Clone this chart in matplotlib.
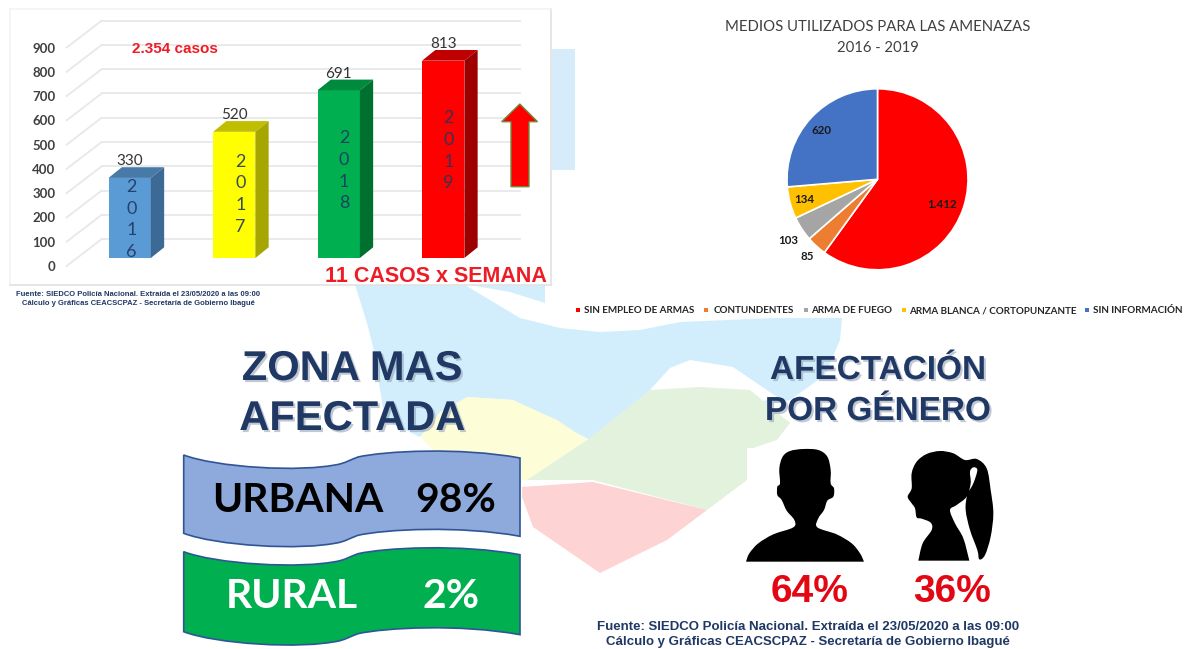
"""Amenazas 2016-2019: infographic with bars, pie, zone banners and gender figures."""

import matplotlib

matplotlib.use("Agg")
import matplotlib.patheffects as pe
import matplotlib.pyplot as plt
from matplotlib.patches import PathPatch, Polygon, Rectangle
from matplotlib.path import Path

W, H = 1186, 649

# Bars
years = ["2016", "2017", "2018", "2019"]
cases = [330, 520, 691, 813]
y_ticks = [0, 100, 200, 300, 400, 500, 600, 700, 800, 900]
front_colors = ["#5b9bd5", "#ffff00", "#00b050", "#ff0000"]
top_colors = ["#487aa8", "#bfbf00", "#008a3e", "#c00000"]
side_colors = ["#3c6a94", "#a6a600", "#00702f", "#9e0000"]

# Pie
pie_names = [
    "SIN EMPLEO DE ARMAS",
    "CONTUNDENTES",
    "ARMA DE FUEGO",
    "ARMA BLANCA / CORTOPUNZANTE",
    "SIN INFORMACIÓN",
]
pie_values = [1412, 85, 103, 134, 620]
pie_labels = ["1.412", "85", "103", "134", "620"]
pie_colors = ["#ff0000", "#ed7d31", "#a5a5a5", "#ffc000", "#4472c4"]

# Zone and gender figures
zones = ["URBANA", "RURAL"]
zone_shares = ["98%", "2%"]
gender_shares = ["64%", "36%"]

NAVY = "#1f3864"
SANS = "Liberation Sans"
HUMAN = "Lato"

fig = plt.figure(figsize=(W / 100, H / 100), dpi=100, facecolor="white")


def px_axes(x0, y0, x1, y1, **kwargs):
    return fig.add_axes([x0 / W, 1 - y1 / H, (x1 - x0) / W, (y1 - y0) / H], **kwargs)


def page_axes(zorder):
    ax = px_axes(0, 0, W, H, zorder=zorder)
    ax.set_xlim(0, W)
    ax.set_ylim(H, 0)
    ax.axis("off")
    return ax


def smooth_path(points):
    # Catmull-Rom curve through the points, closed by a straight bottom edge
    n = len(points)
    verts = [points[0]]
    codes = [Path.MOVETO]
    for i in range(n - 1):
        p0 = points[max(i - 1, 0)]
        p1 = points[i]
        p2 = points[i + 1]
        p3 = points[min(i + 2, n - 1)]
        verts += [
            (p1[0] + (p2[0] - p0[0]) / 6, p1[1] + (p2[1] - p0[1]) / 6),
            (p2[0] - (p3[0] - p1[0]) / 6, p2[1] - (p3[1] - p1[1]) / 6),
            p2,
        ]
        codes += [Path.CURVE4] * 3
    verts.append(points[0])
    codes.append(Path.CLOSEPOLY)
    return Path(verts, codes)


def banner_path(y_top, y_bottom):
    xl, xr = 183.7, 520

    def wave(y):
        return [
            (215, y + 12), (300, y + 18), (340, y + 9),
            (347, y + 7), (350, y + 5), (358, y + 2),
            (385, y - 4), (460, y - 8), (xr, y + 3),
        ]

    bottom = [(xl, y_bottom)] + wave(y_bottom)
    verts = [(xl, y_top)] + wave(y_top) + bottom[::-1] + [(xl, y_top)]
    codes = [Path.MOVETO] + [Path.CURVE4] * 9 + [Path.LINETO] + [Path.CURVE4] * 9 + [Path.CLOSEPOLY]
    return Path(verts, codes)


def title_shadow(t):
    t.set_path_effects([
        pe.SimplePatchShadow(offset=(1.5, -1.5), shadow_rgbFace="#8f9bb0", alpha=0.55),
        pe.Normal(),
    ])


# Page layer in pixel coordinates
page = page_axes(0)

# Watermark behind everything
blue = [(355, 285), (465, 285), (490, 300), (520, 318), (560, 328), (600, 332),
        (640, 330), (680, 322), (775, 318), (842, 318), (840, 340), (825, 375),
        (790, 400), (650, 430), (590, 440), (513, 400), (467, 397), (420, 437),
        (385, 420), (373, 347), (367, 323)]
page.add_patch(Polygon(blue, fc="#d2eefd", ec="none"))
page.add_patch(Polygon([(552, 49), (575, 49), (575, 170), (552, 170)], fc="#d6ecfb", ec="none"))
page.add_patch(Polygon([(470, 285), (545, 285), (545, 303), (510, 292)], fc="#d2eefd", ec="none"))
page.add_patch(Polygon([(650, 390), (670, 368), (690, 360), (733, 367), (777, 397), (750, 405),
                        (650, 405)], fc="white", ec="none"))
yellow = [(420, 437), (440, 412), (467, 397), (513, 400), (557, 420), (587, 440),
          (527, 480), (522, 480), (433, 450)]
page.add_patch(Polygon(yellow, fc="#fdfdd8", ec="none"))
green = [(527, 480), (587, 440), (650, 390), (700, 387), (750, 390), (790, 423),
         (777, 440), (747, 450), (747, 480), (707, 510), (593, 480)]
page.add_patch(Polygon(green, fc="#e3f2dc", ec="none"))
red = [(522, 487), (593, 482), (707, 510), (667, 540), (600, 573), (533, 527), (522, 497)]
page.add_patch(Polygon(red, fc="#fdd3d3", ec="none"))

# White cards hiding the watermark
page.add_patch(Rectangle((575, 0), W - 575, 318, fc="white", ec="none"))
page.add_patch(Rectangle((747, 448), 116, 114, fc="white", ec="none"))

# Bars: one bar slot is 104.5 px wide, one case is 0.2427 px high
bars = px_axes(10, 9, 551, 285, zorder=1)
px_per_slot, px_per_case = 104.5, 0.2427
bars.set_xlim((10 - 129.7) / px_per_slot, (551 - 129.7) / px_per_slot)
bars.set_ylim(-(285 - 258) / px_per_case, (258 - 9) / px_per_case)
bars.set_xticks([])
bars.set_yticks([])
for side, spine in bars.spines.items():
    spine.set_color("#f3f3f3" if side in ("top", "left") else "#e2e2e2")
    spine.set_linewidth(1.2)

x_front, x_back, x_right = -0.604, -0.268, 3.733
for v in y_ticks:
    bars.plot([x_front, x_back], [v - 33, v + 78], color="#e8e8e8", lw=1.3, zorder=1)
    bars.plot([x_back, x_right], [v + 78, v + 78], color="#e8e8e8", lw=1.3, zorder=1)
    bars.text(x_front - 0.105, v - 33, str(v), ha="right", va="center_baseline", fontsize=9.5,
              family=HUMAN, fontweight="bold", color="#404040", zorder=5)

bar_w = 42.3 / px_per_slot
dx, dy = 13.3 / px_per_slot, 10.7 / px_per_case
year_dx = [0.015, 0.06, 0.05, 0.05]
year_drop_px = [9, 30, 48, 57.6]
for i, v in enumerate(cases):
    xl, xr = i - bar_w / 2, i + bar_w / 2
    bars.bar(i, v, width=bar_w, color=front_colors[i], zorder=3)
    bars.add_patch(Polygon([(xl, v), (xr, v), (xr + dx, v + dy), (xl + dx, v + dy)],
                           fc=top_colors[i], ec="none", zorder=3))
    bars.add_patch(Polygon([(xr, 0), (xr + dx, dy), (xr + dx, v + dy), (xr, v)],
                           fc=side_colors[i], ec="none", zorder=3))
    bars.text(i, v + 16.5 / px_per_case, str(v), ha="center", va="center", fontsize=11,
              family=HUMAN, color="#333333", zorder=5)
    for k, ch in enumerate(years[i]):
        y_char = v - (year_drop_px[i] + 21.7 * k) / px_per_case
        bars.text(i + year_dx[i], y_char, ch, ha="center", va="center", fontsize=13,
                  family=HUMAN, color=NAVY, alpha=0.9, zorder=5)

bars.text((175 - 129.7) / px_per_slot, (258 - 49) / px_per_case, "2.354 casos", ha="center",
          va="center", fontsize=11, family=SANS, fontweight="bold", color="#ee1c25", zorder=5)
bars.text((435.5 - 129.7) / px_per_slot, (258 - 277) / px_per_case, "11 CASOS x SEMANA",
          ha="center", va="center", fontsize=15.5, family=SANS, fontweight="bold",
          color="#ee1c25", zorder=5)

# Overlay for the arrow and the pie labels
over = page_axes(2)
over.add_patch(Polygon([(519.8, 104), (537.5, 121.7), (529, 121.7), (529, 186.7),
                        (511, 186.7), (511, 121.7), (501.7, 121.7)],
                       fc="#ff0000", ec="#6f8a3a", lw=1))

page.text(138, 294.5, "Fuente: SIEDCO Policía Nacional. Extraída el 23/05/2020 a las 09:00",
          ha="center", va="center", fontsize=5.5, family=SANS, fontweight="bold", color=NAVY)
page.text(138, 303.8, "Cálculo y Gráficas CEACSCPAZ - Secretaría de Gobierno Ibagué",
          ha="center", va="center", fontsize=5.5, family=SANS, fontweight="bold", color=NAVY)

# Pie
pie_ax = px_axes(877.5 - 90.5, 179.3 - 90.5, 877.5 + 90.5, 179.3 + 90.5, zorder=1)
pie_ax.pie(pie_values, colors=pie_colors, startangle=90, counterclock=False, radius=1,
           wedgeprops={"edgecolor": "white", "linewidth": 1.2})
pie_ax.set_xlim(-1, 1)
pie_ax.set_ylim(-1, 1)

page.text(877.7, 27, "MEDIOS UTILIZADOS PARA LAS AMENAZAS", ha="center", va="center",
          fontsize=10.7, family=HUMAN, color="#404040")
page.text(877.7, 48, "2016 - 2019", ha="center", va="center", fontsize=10.7,
          family=HUMAN, color="#404040")

pie_label_xy = [(942.5, 204), (807, 256), (788, 239), (804.6, 198.5), (821.5, 130)]
for label, (lx, ly) in zip(pie_labels, pie_label_xy):
    over.text(lx, ly, label, ha="center", va="center_baseline", fontsize=8.3, family=HUMAN,
              fontweight="bold", color="#1a1a1a")

legend_marker_x = [578, 705.6, 805.8, 904, 1087]
legend_text_x = [584.5, 713.4, 810.9, 909, 1092.6]
for name, color, mx, tx in zip(pie_names, pie_colors, legend_marker_x, legend_text_x):
    page.add_patch(Rectangle((mx - 2, 307.7), 4, 4, fc=color, ec="none"))
    page.text(tx, 313, name, ha="left", va="baseline", fontsize=7.1, family=HUMAN,
              fontweight="bold", color="#262626")

# Zone block
for text, y in [("ZONA MAS", 369), ("AFECTADA", 419)]:
    title_shadow(page.text(352, y, text, ha="center", va="center", fontsize=30, family=SANS,
                           fontweight="bold", color=NAVY))

page.add_patch(PathPatch(banner_path(455, 533.3), fc="#8ea9db", ec="#2f5597", lw=1.2))
page.add_patch(PathPatch(banner_path(551.7, 631.7), fc="#00b050", ec="#2f5597", lw=1.2))
page.text(211.7, 500, zones[0], ha="left", va="center", fontsize=29.3, family=HUMAN,
          fontweight="bold", color="black")
page.text(496, 500, zone_shares[0], ha="right", va="center", fontsize=29.3, family=HUMAN,
          fontweight="bold", color="black")
page.text(226, 596, zones[1], ha="left", va="center", fontsize=29.3, family=HUMAN,
          fontweight="bold", color="white")
page.text(480, 596, zone_shares[1], ha="right", va="center", fontsize=29.3, family=HUMAN,
          fontweight="bold", color="white")

# Gender block
for text, y in [("AFECTACIÓN", 367), ("POR GÉNERO", 408)]:
    title_shadow(page.text(878, y, text, ha="center", va="center_baseline", fontsize=24,
                           family=SANS, fontweight="bold", color=NAVY))

man = [(18, 365), (28, 340), (55, 310), (100, 283), (160, 262), (163, 240), (140, 212),
       (125, 180), (112, 165), (112, 140), (120, 130), (118, 85), (128, 50), (150, 33),
       (190, 27), (235, 30), (262, 50), (272, 90), (272, 130), (282, 145), (280, 170),
       (262, 182), (252, 210), (235, 235), (232, 262), (290, 283), (335, 310), (360, 340),
       (372, 365)]
woman = [(535, 362), (548, 310), (575, 270), (572, 248), (545, 236), (530, 232), (525, 205),
         (515, 190), (503, 170), (515, 145), (515, 100), (530, 65), (560, 42), (600, 33),
         (640, 40), (675, 60), (710, 57), (740, 85), (752, 150), (760, 220), (752, 290),
         (735, 345), (718, 358), (712, 330), (690, 270), (677, 210), (682, 165), (700, 130),
         (712, 90), (700, 82), (690, 95), (692, 130), (680, 170), (650, 195), (630, 210),
         (645, 250), (670, 295), (688, 362)]
for outline in (man, woman):
    pts = [(740 + zx / 3, 440 + zy / 3) for zx, zy in outline]
    page.add_patch(PathPatch(smooth_path(pts), fc="black", ec="none"))

for share, x in zip(gender_shares, [810, 952]):
    page.text(x, 591.7, share, ha="center", va="center", fontsize=28, family=SANS,
              fontweight="bold", color="#e30613")

page.text(808, 626.7, "Fuente: SIEDCO Policía Nacional. Extraída el 23/05/2020 a las 09:00",
          ha="center", va="center", fontsize=9.5, family=SANS, fontweight="bold", color=NAVY)
page.text(808, 642, "Cálculo y Gráficas CEACSCPAZ - Secretaría de Gobierno Ibagué",
          ha="center", va="center", fontsize=9.5, family=SANS, fontweight="bold", color=NAVY)

fig.savefig("out.png", dpi=100)
